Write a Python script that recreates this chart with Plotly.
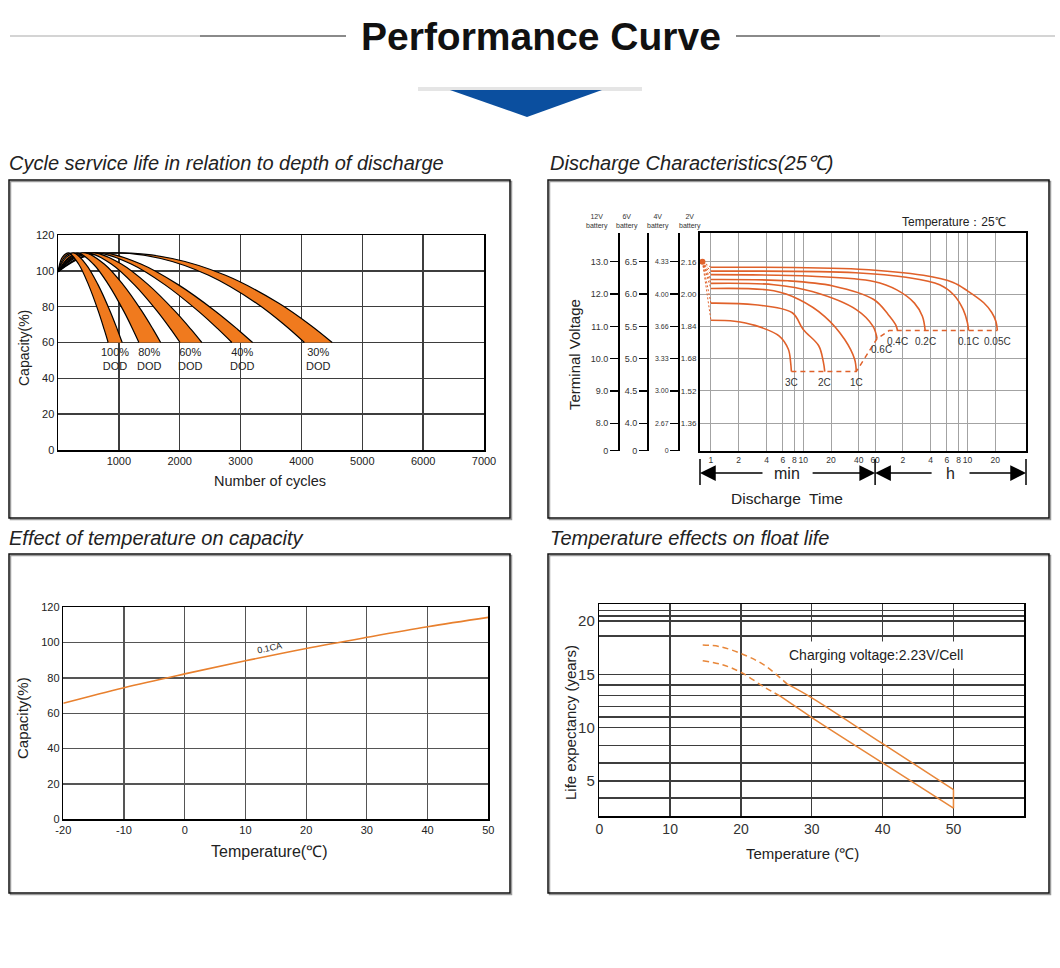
import math
import plotly.graph_objects as go

W, H = 1060, 968
def X(px): return px / W
def Y(py): return 1 - py / H

FONT = "Liberation Sans, Arial, sans-serif"
ORANGE_FILL = "#F07A1E"
CURVE = "#E0612A"
LINE3 = "#E8802E"
LINE4 = "#E8873A"
GRID_DARK = "#3d3d3d"
GRID_LIGHT = "#a3a3a3"
TXT = "#222222"

# ---------------- Panel 1: cycle life vs depth of discharge ----------------
cycle_ticks = [1000, 2000, 3000, 4000, 5000, 6000, 7000]
cap_ticks = [0, 20, 40, 60, 80, 100, 120]

dod100_inner_x = [0, 70, 176, 338, 500, 662, 759, 824]
dod100_inner_y = [99.5, 107.5, 110, 103.8, 92.3, 77.5, 67.3, 60]
dod100_outer_x = [0, 103, 258, 457, 657, 856, 975, 1055]
dod100_outer_y = [99.5, 107.5, 110, 103.8, 92.3, 77.5, 67.3, 60]

dod80_inner_x = [0, 132, 330, 580, 830, 1080, 1230, 1330]
dod80_inner_y = [99.5, 107.5, 110, 103.8, 92.3, 77.5, 67.3, 60]
dod80_outer_x = [0, 180, 450, 759, 1069, 1378, 1563, 1687]
dod80_outer_y = [99.5, 107.5, 110, 103.8, 92.3, 77.5, 67.3, 60]

dod60_inner_x = [0, 200, 500, 876, 1253, 1629, 1855, 2005]
dod60_inner_y = [99.5, 107.5, 110, 103.8, 92.3, 77.5, 67.3, 60]
dod60_outer_x = [0, 240, 600, 1041, 1482, 1922, 2187, 2363]
dod60_outer_y = [99.5, 107.5, 110, 103.8, 92.3, 77.5, 67.3, 60]

dod40_inner_x = [0, 260, 650, 1202, 1754, 2305, 2636, 2857]
dod40_inner_y = [99.5, 107.5, 110, 103.8, 92.3, 77.5, 67.3, 60]
dod40_outer_x = [0, 300, 750, 1362, 1974, 2586, 2953, 3198]
dod40_outer_y = [99.5, 107.5, 110, 103.8, 92.3, 77.5, 67.3, 60]

dod30_inner_x = [0, 360, 900, 1687, 2475, 3262, 3734, 4049]
dod30_inner_y = [99.5, 107.5, 110, 106.9, 97.5, 81.9, 69.5, 60]
dod30_outer_x = [0, 400, 1000, 1876, 2753, 3629, 4155, 4505]
dod30_outer_y = [99.5, 107.5, 110, 106.9, 97.5, 81.9, 69.5, 60]

# ---------------- Panel 2: discharge characteristics ----------------
time_tick_vals = [1, 2, 4, 6, 8, 10, 20, 40, 60, 120, 240, 360, 480, 600, 1200]
time_tick_text = ["1", "2", "4", "6", "8", "10", "20", "40", "60", "2", "4", "6", "8", "10", "20"]
volt_tick_vals = [7.16, 8, 9, 10, 11, 12, 13]
v12_text = ["0", "8.0", "9.0", "10.0", "11.0", "12.0", "13.0"]
v6_text = ["0", "4.0", "4.5", "5.0", "5.5", "6.0", "6.5"]
v4_text = ["0", "2.67", "3.00", "3.33", "3.66", "4.00", "4.33"]
v2_text = ["", "1.36", "1.52", "1.68", "1.84", "2.00", "2.16"]

c005_t = [1, 40, 200, 420, 600, 900, 1100, 1220, 1265]
c005_v = [12.83, 12.77, 12.58, 12.36, 12.10, 11.73, 11.43, 11.15, 10.87]
c01_t = [1, 37, 130, 300, 425, 540, 600, 616]
c01_v = [12.71, 12.66, 12.52, 12.29, 11.98, 11.52, 11.11, 10.87]
c02_t = [1, 12.5, 58, 103, 160, 195, 209]
c02_v = [12.60, 12.55, 12.39, 12.13, 11.72, 11.31, 10.87]
c04_t = [1, 6.8, 21, 58, 83, 100, 105]
c04_v = [12.45, 12.41, 12.25, 11.83, 11.37, 11.05, 10.87]
c06_t = [1, 4.8, 12.5, 37.5, 57, 63]
c06_v = [12.33, 12.29, 12.08, 11.52, 11.00, 10.62]
c1_t = [1, 4.8, 9, 17, 28, 36, 37.5]
c1_v = [12.17, 12.10, 11.83, 11.31, 10.60, 9.98, 9.60]
c2_t = [1, 3, 7.6, 10, 14.7, 16.5, 17.1]
c2_v = [11.72, 11.67, 11.42, 10.90, 10.40, 9.90, 9.60]
c3_t = [1, 1.8, 3, 5.5, 6.9, 7.3, 7.44]
c3_v = [11.19, 11.16, 11.03, 10.70, 10.29, 9.88, 9.60]

cutoff_t = [7.44, 37.5, 63, 85, 1265]
cutoff_v = [9.60, 9.60, 10.62, 10.87, 10.87]
initial_t = 0.81
initial_v = 13.0

# ---------------- Panel 3: temperature vs capacity ----------------
temp_ticks = [-20, -10, 0, 10, 20, 30, 40, 50]
temp_tick_text = ["-20", "-10", "0", "10", "20", "30", "40", "50"]
temp_c = [-20, -10, 0, 10, 20, 30, 40, 50]
cap_pct = [65.7, 74.5, 82.3, 89.7, 96.7, 103.0, 109.0, 114.3]

# ---------------- Panel 4: temperature vs float life ----------------
float_temp_ticks = [0, 10, 20, 30, 40, 50]
life_grid_vals = [3.4, 5, 6.7, 8.3, 10, 11, 12, 13, 14, 15, 18.6, 20, 20.45, 21.0]
life_grid_text = ["", "5", "", "", "10", "", "", "", "", "15", "", "20", "", ""]
upper_dash_t = [14.6, 17.0, 20.0, 23.2, 26.5]
upper_dash_y = [17.75, 17.6, 16.95, 15.9, 14.1]
upper_solid_t = [26.5, 30, 40, 50]
upper_solid_y = [14.1, 12.8, 8.5, 4.2]
lower_dash_t = [14.6, 17.5, 20.1, 23.2, 25.5]
lower_dash_y = [16.27, 15.87, 15.15, 13.84, 12.97]
lower_solid_t = [25.5, 30, 40, 50]
lower_solid_y = [12.97, 10.95, 6.7, 2.45]

fig = go.Figure()
ann = []
shapes = []

# ---- Panel 1 traces
bands = [
    ("30%<br>DOD", dod30_inner_x, dod30_inner_y, dod30_outer_x, dod30_outer_y),
    ("40%<br>DOD", dod40_inner_x, dod40_inner_y, dod40_outer_x, dod40_outer_y),
    ("60%<br>DOD", dod60_inner_x, dod60_inner_y, dod60_outer_x, dod60_outer_y),
    ("80%<br>DOD", dod80_inner_x, dod80_inner_y, dod80_outer_x, dod80_outer_y),
    ("100%<br>DOD", dod100_inner_x, dod100_inner_y, dod100_outer_x, dod100_outer_y),
]
for name, ix, iy, ox, oy in bands:
    fig.add_trace(go.Scatter(x=ix, y=iy, mode="lines", xaxis="x", yaxis="y",
                             line=dict(color="black", width=1.2, shape="spline"),
                             hoverinfo="skip", showlegend=False))
    fig.add_trace(go.Scatter(x=ox, y=oy, mode="lines", xaxis="x", yaxis="y",
                             fill="tonexty", fillcolor=ORANGE_FILL,
                             line=dict(color="black", width=1.2, shape="spline"),
                             name=name.replace("<br>", " "), showlegend=False))
    ann.append(dict(x=(ix[-1] + ox[-1]) / 2, y=iy[-1], xref="x", yref="y", text=name,
                    showarrow=False, xanchor="center", yanchor="top", yshift=-1, xshift=0,
                    font=dict(family=FONT, size=11, color=TXT)))

# ---- Panel 2 traces
rates = [("3C", c3_t, c3_v), ("2C", c2_t, c2_v), ("1C", c1_t, c1_v), ("0.6C", c06_t, c06_v),
         ("0.4C", c04_t, c04_v), ("0.2C", c02_t, c02_v), ("0.1C", c01_t, c01_v), ("0.05C", c005_t, c005_v)]
# empty traces so the extra battery-voltage scales are drawn
for ya_name in ["y3", "y4", "y5"]:
    fig.add_trace(go.Scatter(x=[None], y=[None], mode="lines", xaxis="x2", yaxis=ya_name,
                             showlegend=False, hoverinfo="skip"))
fan_x, fan_y = [], []
for name, t, v in rates:
    fan_x += [initial_t, t[0], None]
    fan_y += [initial_v, v[0], None]
fig.add_trace(go.Scatter(x=fan_x, y=fan_y, mode="lines", xaxis="x2", yaxis="y2",
                         line=dict(color=CURVE, width=1, dash="2px,2px"), showlegend=False, hoverinfo="skip"))
fig.add_trace(go.Scatter(x=[initial_t], y=[initial_v], mode="markers", xaxis="x2", yaxis="y2",
                         marker=dict(color=CURVE, size=6), showlegend=False, cliponaxis=False))
for name, t, v in rates:
    fig.add_trace(go.Scatter(x=t, y=v, mode="lines", xaxis="x2", yaxis="y2", name=name,
                             line=dict(color=CURVE, width=1.6, shape="spline"), showlegend=False))
    xs, ys = (4, -3) if name == "0.6C" else (0, -3)
    ann.append(dict(x=math.log10(t[-1]), y=v[-1], xref="x2", yref="y2", text=name, showarrow=False,
                    xanchor="center", yanchor="top", xshift=xs, yshift=ys,
                    font=dict(family=FONT, size=10, color="#333333")))
fig.add_trace(go.Scatter(x=cutoff_t, y=cutoff_v, mode="lines", xaxis="x2", yaxis="y2",
                         line=dict(color=CURVE, width=1.5, dash="5px,4px"), showlegend=False))

# ---- Panel 3 trace
fig.add_trace(go.Scatter(x=temp_c, y=cap_pct, mode="lines", xaxis="x3", yaxis="y6",
                         line=dict(color=LINE3, width=1.6, shape="spline"), showlegend=False))

# ---- Panel 4 traces
for tx, ty, dash in [(upper_dash_t, upper_dash_y, "6px,4px"), (lower_dash_t, lower_dash_y, "6px,4px"),
                     (upper_solid_t, upper_solid_y, "solid"), (lower_solid_t, lower_solid_y, "solid")]:
    fig.add_trace(go.Scatter(x=tx, y=ty, mode="lines", xaxis="x4", yaxis="y7",
                             line=dict(color=LINE4, width=1.5, dash=dash, shape="spline"), showlegend=False))
fig.add_trace(go.Scatter(x=[upper_solid_t[-1], lower_solid_t[-1]], y=[upper_solid_y[-1], lower_solid_y[-1]],
                         mode="lines", xaxis="x4", yaxis="y7", line=dict(color=LINE4, width=1.5), showlegend=False))

# ---------------- axes ----------------
def box_axis(**kw):
    d = dict(showline=True, linecolor="black", linewidth=1.5, mirror=True, ticks="",
             showgrid=True, gridcolor=GRID_DARK, gridwidth=1.4, zeroline=False, tickangle=0,
             automargin=False,
             tickfont=dict(family=FONT, size=11, color=TXT), fixedrange=True)
    d.update(kw)
    return d

layout_axes = dict(
    xaxis=box_axis(domain=[X(58), X(484)], range=[0, 7000], tickvals=cycle_ticks, anchor="y"),
    yaxis=box_axis(domain=[Y(450), Y(235)], range=[0, 120], tickvals=cap_ticks, anchor="x"),
    xaxis2=box_axis(domain=[X(700), X(1026)], type="log", range=[-0.118, 3.412], anchor="y2",
                    tickvals=time_tick_vals, ticktext=time_tick_text, gridcolor=GRID_LIGHT, gridwidth=1,
                    linewidth=2, tickfont=dict(family=FONT, size=8.5, color="#333333")),
    yaxis2=box_axis(domain=[Y(450.7), Y(233)], range=[7.15, 13.89], anchor="x2",
                    tickvals=volt_tick_vals, ticktext=v2_text, gridcolor=GRID_LIGHT, gridwidth=1,
                    linewidth=2, tickfont=dict(family=FONT, size=8, color="#333333")),
    xaxis3=box_axis(domain=[X(63.3), X(488.3)], range=[-20, 50], tickvals=temp_ticks,
                    ticktext=temp_tick_text, anchor="y6", gridcolor="#555555", gridwidth=1.2),
    yaxis6=box_axis(domain=[Y(819.3), Y(607.3)], range=[0, 120], tickvals=cap_ticks, anchor="x3",
                    gridcolor="#555555", gridwidth=1.2),
    xaxis4=box_axis(domain=[X(599.3), X(1024.3)], range=[0, 60], tickvals=float_temp_ticks, anchor="y7",
                    tickfont=dict(family=FONT, size=14, color="#333333")),
    yaxis7=box_axis(domain=[Y(816), Y(604)], range=[1.72, 21.59], tickvals=life_grid_vals,
                    ticktext=life_grid_text, anchor="x4",
                    tickfont=dict(family=FONT, size=15, color="#333333")),
)
for name, pos, texts, fs in [("yaxis3", 678, v4_text, 7), ("yaxis4", 647, v6_text, 9), ("yaxis5", 618, v12_text, 9)]:
    layout_axes[name] = dict(overlaying="y2", anchor="free", position=X(pos), side="left",
                             range=[7.15, 13.89], tickvals=volt_tick_vals, ticktext=texts,
                             showgrid=False, zeroline=False, showline=True, linecolor="black", linewidth=1.6,
                             ticks="outside", ticklen=8, tickwidth=1.4, tickcolor="black", automargin=False,
                             tickfont=dict(family=FONT, size=fs, color="#333333"), fixedrange=True)

# ---------------- header decorations ----------------
shapes += [
    dict(type="line", xref="paper", yref="paper", x0=X(10), x1=X(200), y0=Y(36), y1=Y(36),
         line=dict(color="#d4d4d4", width=2)),
    dict(type="line", xref="paper", yref="paper", x0=X(200), x1=X(346), y0=Y(36), y1=Y(36),
         line=dict(color="#8a8a8a", width=2)),
    dict(type="line", xref="paper", yref="paper", x0=X(736), x1=X(880), y0=Y(36), y1=Y(36),
         line=dict(color="#8a8a8a", width=2)),
    dict(type="line", xref="paper", yref="paper", x0=X(880), x1=X(1055), y0=Y(36), y1=Y(36),
         line=dict(color="#d4d4d4", width=2)),
    dict(type="line", xref="paper", yref="paper", x0=X(418), x1=X(642), y0=Y(89), y1=Y(89),
         line=dict(color="rgba(0,0,0,0.10)", width=4)),
    dict(type="path", xref="paper", yref="paper",
         path=f"M {X(450)},{Y(90)} L {X(602)},{Y(90)} L {X(527)},{Y(117)} Z",
         fillcolor="#0B4F9F", line=dict(width=0)),
]
for (x0, y0, x1, y1) in [(9, 180, 510, 518), (548, 180, 1049, 518), (9, 554, 510, 893), (548, 554, 1049, 893)]:
    shapes.append(dict(type="rect", xref="paper", yref="paper", x0=X(x0 + 1.5), x1=X(x1 + 1.5),
                       y0=Y(y1 + 1.5), y1=Y(y0 + 1.5), line=dict(color="#9a9a9a", width=1.5)))
    shapes.append(dict(type="rect", xref="paper", yref="paper", x0=X(x0), x1=X(x1),
                       y0=Y(y1), y1=Y(y0), line=dict(color="#111111", width=1.5)))

ya = Y(473)
for xr, xv in [("x2 domain", 0), ("x2", 60), ("x2 domain", 1)]:
    shapes.append(dict(type="line", xref=xr, yref="paper", x0=xv, x1=xv, y0=Y(459), y1=Y(485),
                       line=dict(color="black", width=1.5)))
arrow = dict(showarrow=True, arrowhead=2, arrowsize=2.1, arrowwidth=1.5, arrowcolor="black",
             text="", yref="paper", y=ya, ay=0)
ann += [
    dict(arrow, xref="x2 domain", x=0, ax=64),
    dict(arrow, xref="x2", x=math.log10(60), ax=-64),
    dict(arrow, xref="x2", x=math.log10(60), ax=58),
    dict(arrow, xref="x2 domain", x=1, ax=-58),
]

def txt(x, y, s, size, **kw):
    d = dict(x=X(x), y=Y(y), xref="paper", yref="paper", text=s, showarrow=False,
             xanchor="center", yanchor="middle", font=dict(family=FONT, size=size, color=TXT))
    d.update(kw)
    return d

small = dict(family=FONT, size=7, color="#333333")
ann += [
    txt(541, 37, "<b>Performance Curve</b>", 39, font=dict(family=FONT, size=39, color="#111111")),
    txt(7, 163, "<i>Cycle service life in relation to depth of discharge</i>", 20, xanchor="left"),
    txt(548, 163, "<i>Discharge Characteristics(25℃)</i>", 20, xanchor="left"),
    txt(7, 538, "<i>Effect of temperature on capacity</i>", 20, xanchor="left"),
    txt(548, 538, "<i>Temperature effects on float life</i>", 20, xanchor="left"),
    txt(24, 348, "Capacity(%)", 14, textangle=-90),
    txt(270, 481, "Number of cycles", 14.5),
    txt(1008, 222, "Temperature：25℃", 12, xanchor="right"),
    txt(597, 221, "12V<br>battery", 7, font=small),
    txt(627, 221, "6V<br>battery", 7, font=small),
    txt(658, 221, "4V<br>battery", 7, font=small),
    txt(690, 221, "2V<br>battery", 7, font=small),
    txt(574, 355, "Terminal Voltage", 15, textangle=-90),
    txt(787, 473, "min", 16, bgcolor="white"),
    txt(950, 473, "h", 16, bgcolor="white"),
    txt(787, 498, "Discharge  Time", 15.5),
    txt(22, 718, "Capacity(%)", 15, textangle=-90),
    txt(269, 851, "Temperature(℃)", 16),
    dict(x=14, y=97.2, xref="x3", yref="y6", text="0.1CA", showarrow=False, textangle=-12,
         font=dict(family=FONT, size=9, color=TXT)),
    txt(570, 723, "Life expectancy (years)", 15, textangle=-90),
    txt(802, 853, "Temperature (℃)", 15),
    txt(876, 655, "Charging voltage:2.23V/Cell", 14, bgcolor="white", borderpad=5),
]

fig.update_layout(
    template="none",
    width=W, height=H, margin=dict(l=0, r=0, t=0, b=0, pad=0, autoexpand=False),
    paper_bgcolor="white", plot_bgcolor="white", showlegend=False,
    font=dict(family=FONT, color=TXT),
    annotations=ann, shapes=shapes, **layout_axes,
)
fig.write_html("out.html", config={"displayModeBar": False, "staticPlot": True},
               post_script="document.body.style.margin='0';document.body.style.overflow='hidden';")
